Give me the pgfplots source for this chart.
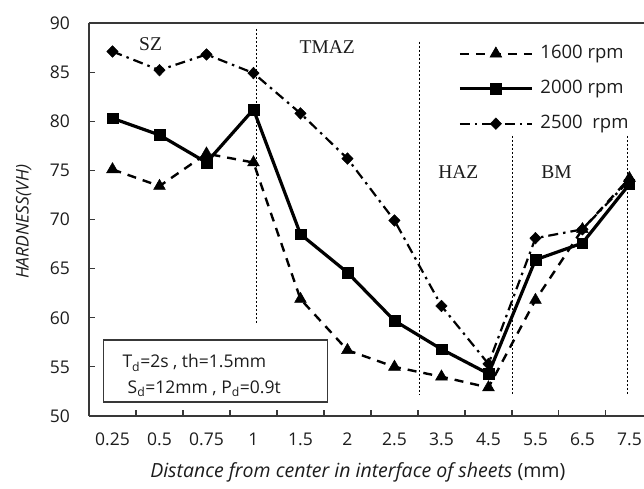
\documentclass[border=0pt]{standalone}
\usepackage{fontspec}
\setmainfont{Open Sans}
\newfontfamily\serif{Liberation Serif}
\usepackage{pgfplots}
\pgfplotsset{compat=1.18}
\definecolor{txt}{HTML}{1C1C1C}
\definecolor{axl}{HTML}{383838}

\begin{document}
\begin{tikzpicture}
\path[use as bounding box] (-89pt,-72pt) rectangle (555pt,416pt);
\begin{axis}[
  at={(0pt,0pt)}, anchor=south west,
  scale only axis, width=555pt, height=393pt,
  xmin=-0.5, xmax=11.31, ymin=50, ymax=90,
  clip=false,
  axis x line*=bottom, axis y line*=left,
  axis line style={line width=1.4pt, color=axl},
  tick align=inside, major tick length=6pt,
  tick style={line width=1.1pt, color=axl},
  ytick={50,55,...,90},
  xtick={0.5,1.5,...,10.5}, xticklabels={},
  extra x ticks={0,...,11},
  extra x tick labels={0.25,0.5,0.75,1,1.5,2,2.5,3.5,4.5,5.5,6.5,7.5},
  extra x tick style={major tick length=0pt},
  /pgf/number format/assume math mode=true,
  tick label style={font=\fontsize{17.5}{20}\selectfont, text=txt},
  yticklabel style={inner sep=0pt, xshift=-19pt},
  xticklabel style={inner sep=0pt, yshift=-17pt},
  legend style={at={(0.665,0.944)}, anchor=north west, draw=none, fill=none,
    inner sep=0pt, column sep=7pt, row sep=18pt,
    font=\fontsize{18.5}{21}\selectfont, text=txt,
    nodes={inner sep=0pt, text height=13pt, text depth=4pt}},
  legend cell align=left,
  legend image code/.code={\draw[mark repeat=2, mark phase=2] plot coordinates {(0pt,0pt) (36pt,0pt) (72pt,0pt)};},
]
\addplot[black, line width=2.4pt, dash pattern=on 9pt off 7pt, mark=triangle*, mark size=6.8pt, mark options={solid, line width=0.5pt}] coordinates {
  (0,75.1) (1,73.4) (2,76.7) (3,75.8) (4,61.9) (5,56.7) (6,55.0) (7,54.0) (8,52.9) (9,61.8) (10,69.0) (11,74.2)
};
\addlegendentry{1600 rpm}
\addplot[black, line width=3.2pt, mark=square*, mark size=5.3pt, mark options={solid, line width=0.5pt}] coordinates {
  (0,80.3) (1,78.6) (2,75.8) (3,81.2) (4,68.5) (5,64.6) (6,59.7) (7,56.8) (8,54.3) (9,65.9) (10,67.6) (11,73.6)
};
\addlegendentry{2000 rpm}
\addplot[black, line width=2.2pt, dash pattern=on 10pt off 5pt on 2.5pt off 5pt, mark=diamond*, mark size=5.8pt, mark options={solid, line width=0.5pt, xscale=1.3}] coordinates {
  (0,87.1) (1,85.2) (2,86.8) (3,84.9) (4,80.8) (5,76.2) (6,69.9) (7,61.2) (8,55.3) (9,68.1) (10,69.0) (11,74.0)
};
\addlegendentry{2500~ rpm}

% top border of the plot area
\draw[line width=1.4pt, axl] (rel axis cs:0,1) -- (rel axis cs:1,1);

% zone boundaries
\draw[black, line width=0.9pt, dash pattern=on 2.5pt off 1.5pt] (axis cs:3.06,89.4) -- (axis cs:3.06,59.3);
\draw[black, line width=0.9pt, dash pattern=on 2.5pt off 1.5pt] (axis cs:6.53,88.1) -- (axis cs:6.53,52.1);
\draw[black, line width=0.9pt, dash pattern=on 2.5pt off 1.5pt] (axis cs:8.51,78.5) -- (axis cs:8.51,52.1);
\draw[black, line width=0.9pt, dash pattern=on 2.5pt off 1.5pt] (axis cs:10.96,78.5) -- (axis cs:10.96,52.1);

% zone names
\node[text=txt, font=\serif\fontsize{19.5}{22}\selectfont] at (axis cs:0.81,87.86) {SZ};
\node[text=txt, font=\serif\fontsize{19.5}{22}\selectfont] at (axis cs:4.57,87.56) {TMAZ};
\node[text=txt, font=\serif\fontsize{19.5}{22}\selectfont] at (axis cs:7.36,74.8) {HAZ};
\node[text=txt, font=\serif\fontsize{19.5}{22}\selectfont] at (axis cs:9.45,74.8) {BM};

% process parameters
\draw[line width=1.1pt, axl] (axis cs:-0.19,57.74) rectangle (axis cs:4.57,51.43);
\node[anchor=west, inner sep=0pt, text=txt, font=\fontsize{17.5}{20}\selectfont] at (axis cs:0.21,55.4) {T\textsubscript{d}=2s , th=1.5mm};
\node[anchor=west, inner sep=0pt, text=txt, font=\fontsize{17.5}{20}\selectfont] at (axis cs:0.32,52.75) {S\textsubscript{d}=12mm , P\textsubscript{d}=0.9t};

% axis titles
\node[rotate=90, text=txt, font=\itshape\fontsize{17.5}{20}\selectfont] at (axis cs:-1.89,69.75) {HARDNESS(VH)};
\node[text=txt, font=\fontsize{19.5}{22}\selectfont] at (axis cs:5.22,44.3) {\textit{Distance from center in interface of sheets} (mm)};
\end{axis}
\end{tikzpicture}
\end{document}
